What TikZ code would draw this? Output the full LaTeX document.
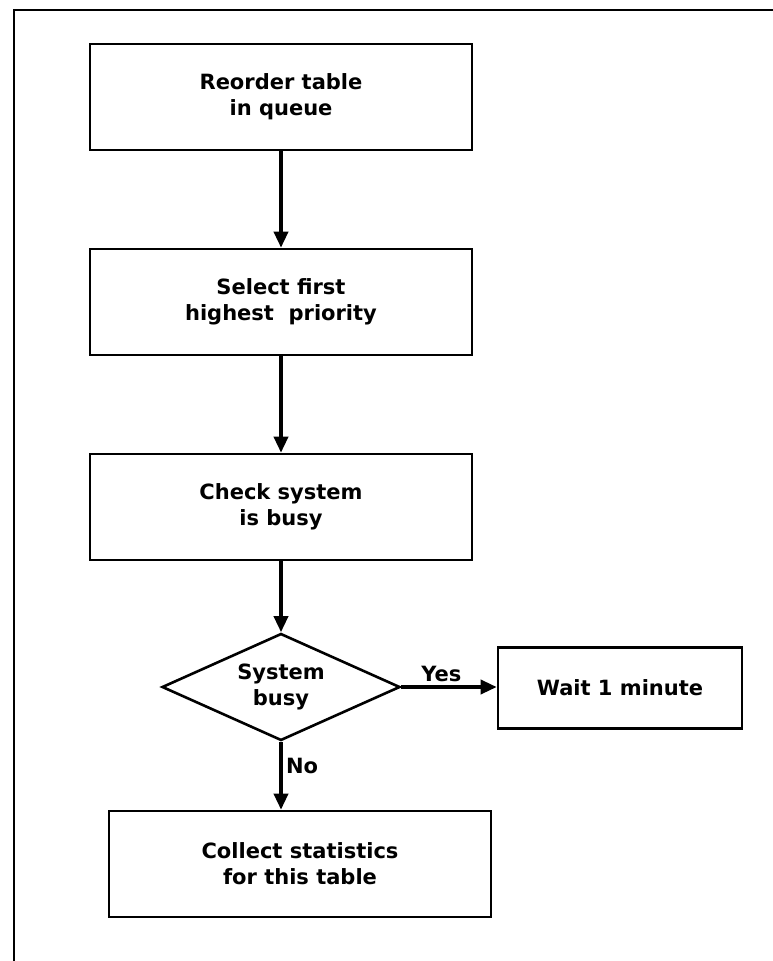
\documentclass[tikz,border=0pt]{standalone}
\usepackage{fontspec}
\setmainfont{DejaVu Sans}
\usetikzlibrary{arrows.meta,positioning,shapes.geometric}
\tikzset{blk/.style={draw,line width=2.6pt,minimum width=382pt,minimum height=106pt,align=center,inner sep=0pt},
 dec/.style={draw,diamond,line width=2.6pt,aspect=2.2,minimum width=238pt,minimum height=107pt,align=center,inner sep=0pt},
 arr/.style={-{Triangle[length=16pt,width=14pt]},line width=3.5pt},
 every node/.style={font=\fontsize{21}{26}\selectfont\bfseries}}
\begin{document}
\begin{tikzpicture}[x=1pt,y=-1pt]
\useasboundingbox (0,0) rectangle (773,961);
\draw[line width=2.4pt] (773,10)--(14,10)--(14,961);
\node[blk] (reorder) at (281,97) {Reorder table\\in queue};\node[blk] (select) at (281,302) {Select first\\highest~~priority};
\node[blk] (check) at (281,507) {Check system\\is busy};
\node[dec] (busy) at (281,687) {System\\busy};
\node[blk,minimum width=244pt,minimum height=81pt] (wait) at (620,688) {Wait 1 minute};
\node[blk] (collect) at (300,864) {Collect statistics\\for this table};
\draw[arr] (reorder)--(select);\draw[arr] (select)--(check);\draw[arr] (check)--(busy);
\draw[arr] (busy.east)--node[above,pos=.42]{Yes}(busy.east -| wait.west);
\draw[arr] (busy.south)--node[right,pos=.35]{No}(busy.south |- collect.north);
\end{tikzpicture}
\end{document}
